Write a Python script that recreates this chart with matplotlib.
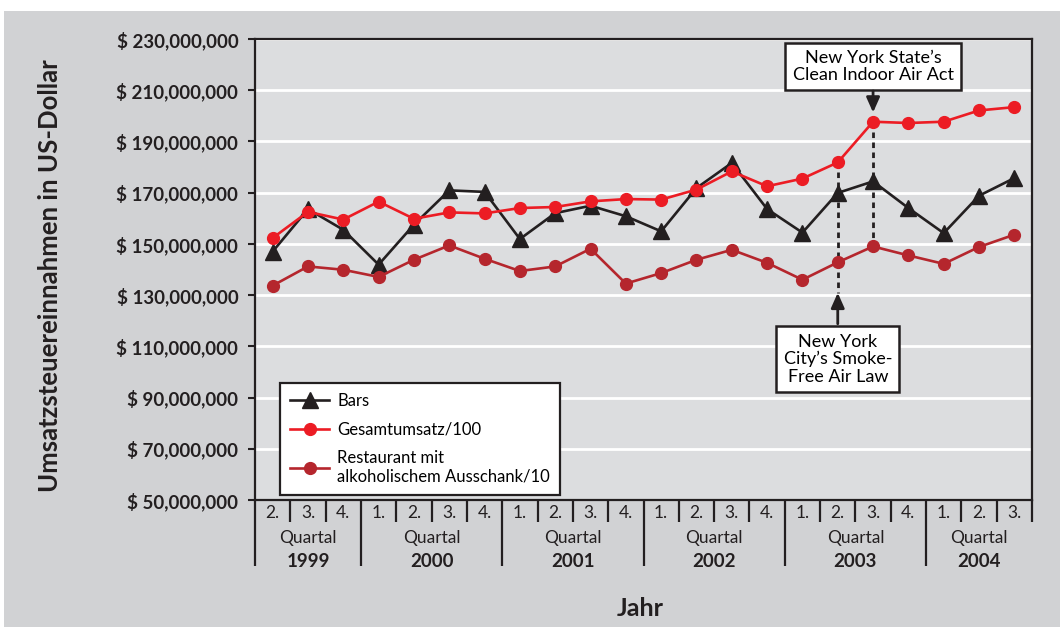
# -*- coding: utf-8 -*-

import matplotlib
matplotlib.use('Agg')
import matplotlib.pyplot as plt
from matplotlib.patches import Rectangle
from matplotlib.transforms import blended_transform_factory


plt.rcParams['font.family'] = ['Lato', 'DejaVu Sans']

# quarters 1999 Q2 .. 2004 Q3
years = ['1999', '2000', '2001', '2002', '2003', '2004']
yearQuarters = [
    ['2.', '3.', '4.'],
    ['1.', '2.', '3.', '4.'],
    ['1.', '2.', '3.', '4.'],
    ['1.', '2.', '3.', '4.'],
    ['1.', '2.', '3.', '4.'],
    ['1.', '2.', '3.'],
]

# values in millions of US-Dollar
bars = [147.0, 163.6, 155.5, 141.9, 157.5, 170.9, 170.3, 151.9, 162.0, 164.9,
        160.8, 154.9, 171.8, 181.6, 163.6, 154.4, 169.9, 174.4, 164.0, 154.2,
        168.8, 175.7]
gesamt = [152.3, 162.5, 159.5, 166.5, 159.8, 162.3, 161.9, 164.0, 164.4, 166.6,
          167.5, 167.3, 171.2, 178.3, 172.5, 175.5, 181.8, 197.7, 197.2, 197.7,
          202.1, 203.4]
restaurant = [133.7, 141.2, 139.9, 137.1, 143.8, 149.4, 144.2, 139.4, 141.2,
              148.1, 134.5, 138.6, 143.8, 147.7, 142.6, 136.0, 142.8, 149.0,
              145.5, 142.2, 148.8, 153.6]

yTicks = list(range(50, 231, 20))

# events: (quarter index, arrow tip, label box centre) in millions
stateIdx, stateTip, stateBox = 17, 201.3, 219.2
cityIdx, cityTip, cityBox = 16, 130.9, 105.0

black = '#231f20'
red = '#ec1c24'
darkRed = '#b5262d'
figGray = '#d1d2d4'
axGray = '#dcdddf'

fig = plt.figure(figsize=(10.6, 6.27), dpi=100, facecolor='white')
fig.add_artist(Rectangle((4 / 1060, 0), 1, 1 - 11 / 627,
                         transform=fig.transFigure, facecolor=figGray,
                         edgecolor='none', zorder=-10))

ax = fig.add_axes([255 / 1060, 1 - 500 / 627, 777 / 1060, 461 / 627])
ax.set_facecolor(axGray)

x = list(range(len(bars)))
M = 1e6

ax.plot(x, [v * M for v in bars], '-^', color=black, lw=1.9, ms=11,
        label='Bars', zorder=4)
ax.plot(x, [v * M for v in gesamt], '-o', color=red, lw=1.9, ms=8.5,
        label='Gesamtumsatz/100', zorder=5)
ax.plot(x, [v * M for v in restaurant], '-o', color=darkRed, lw=1.9, ms=8.5,
        label='Restaurant mit\nalkoholischem Ausschank/10', zorder=4)

# dotted event lines
ax.plot([stateIdx, stateIdx], [gesamt[stateIdx] * M, restaurant[stateIdx] * M],
        color=black, lw=2, ls=(0, (2, 1.6)), zorder=3)
ax.plot([cityIdx, cityIdx], [gesamt[cityIdx] * M, cityTip * M],
        color=black, lw=2, ls=(0, (2, 1.6)), zorder=3)

boxProps = dict(boxstyle='square,pad=0.4', facecolor='white',
                edgecolor=black, linewidth=1.8)
arrowProps = dict(arrowstyle='-|>,head_length=0.9,head_width=0.4',
                  color=black, lw=2, shrinkA=0, shrinkB=0)

ax.text(stateIdx, stateBox * M, 'New York State\u2019s\nClean Indoor Air Act',
        ha='center', va='center', fontsize=13, linespacing=1.05,
        bbox=boxProps, zorder=7)
ax.annotate('', xy=(stateIdx, stateTip * M), xytext=(stateIdx, 209.7 * M),
            arrowprops=arrowProps, zorder=7)

ax.text(cityIdx, cityBox * M, 'New York\nCity\u2019s Smoke-\nFree Air Law',
        ha='center', va='center', fontsize=13, linespacing=1.1,
        bbox=boxProps, zorder=7)
ax.annotate('', xy=(cityIdx, cityTip * M), xytext=(cityIdx, 118.8 * M),
            arrowprops=arrowProps, zorder=7)

# axes
ax.set_xlim(-0.5, len(bars) - 0.5)
ax.set_ylim(yTicks[0] * M, yTicks[-1] * M)
ax.set_yticks([v * M for v in yTicks])
ax.set_yticklabels(['$ {:,}'.format(v * 1000000) for v in yTicks],
                   fontsize=13.5, fontweight='bold', color=black)
ax.tick_params(axis='y', length=5, width=1.5, color=black, pad=7)
ax.set_xticks([])
ax.grid(axis='y', color='white', lw=2)
ax.set_axisbelow(True)
for s in ax.spines.values():
    s.set_linewidth(1.6)
    s.set_color(black)

# quarter / year table below the axis
trans = blended_transform_factory(ax.transData, ax.transAxes)
pos = 0
for year, quarters in zip(years, yearQuarters):
    start = pos
    for q in quarters:
        ax.text(pos, -0.028, q, transform=trans, ha='center', va='center',
                fontsize=12.5, color=black)
        pos += 1
    centre = (start + pos - 1) / 2
    ax.text(centre, -0.082, 'Quartal', transform=trans, ha='center',
            va='center', fontsize=12.5, color=black)
    ax.text(centre, -0.134, year, transform=trans, ha='center',
            va='center', fontsize=13.5, fontweight='bold', color=black)

yearStarts = []
pos = 0
for quarters in yearQuarters:
    yearStarts.append(pos)
    pos += len(quarters)

for b in range(len(bars) + 1):
    bottom = -0.143 if (b in yearStarts) else -0.047
    ax.plot([b - 0.5, b - 0.5], [0, bottom], transform=trans, color=black,
            lw=1.6, clip_on=False, solid_capstyle='butt')

ax.set_xlim(-0.5, len(bars) - 0.5)
ax.set_ylim(yTicks[0] * M, yTicks[-1] * M)

leg = ax.legend(loc='upper left', bbox_to_anchor=(0.022, 0.272),
                fontsize=12, frameon=True, fancybox=False,
                edgecolor=black, framealpha=1, handlelength=2.3,
                handletextpad=0.5, labelspacing=0.75, borderpad=0.6)
leg.get_frame().set_linewidth(1.6)
leg.set_zorder(8)

fig.text(50 / 1060, 1 - 276 / 627, 'Umsatzsteuereinnahmen in US-Dollar',
         rotation=90, ha='center', va='center', fontsize=18.5,
         fontweight='bold', color=black)
fig.text(640 / 1060, 1 - 609 / 627, 'Jahr', ha='center', va='center',
         fontsize=18, fontweight='bold', color=black)

fig.savefig('out.png', dpi=100, facecolor=fig.get_facecolor())
